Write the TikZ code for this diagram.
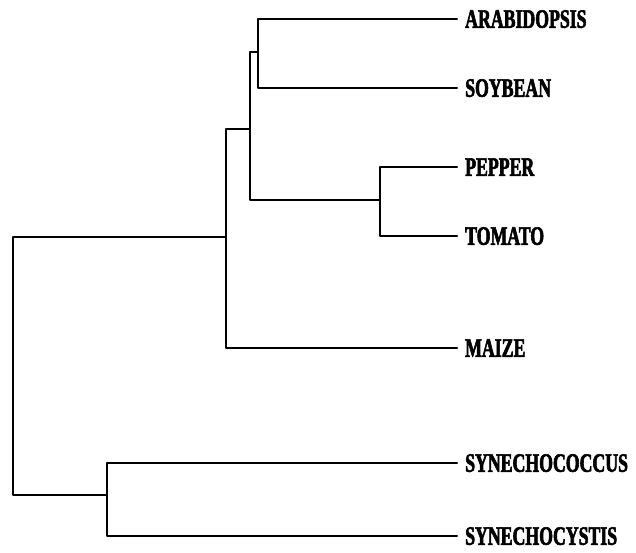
\documentclass[tikz,border=0pt]{standalone}
\usepackage{fontspec}
\newfontfamily\labfont[FakeStretch=0.67,BoldFeatures={FakeBold=2.2}]{Liberation Serif}
\begin{document}
\begin{tikzpicture}[x=1pt,y=-1pt,
  branch/.style={line width=2pt, line cap=round, line join=round},
  taxon/.style={anchor=west, inner xsep=8pt, inner ysep=0pt,
    font=\labfont\bfseries\fontsize{26.5}{27}\selectfont,
    text height=17.5pt, text depth=0pt}]
\useasboundingbox (0,0) rectangle (636,552);
% internal nodes
\coordinate (root) at (13,366);
\coordinate (A) at (226,237);
\coordinate (E) at (107,495);
\coordinate (B) at (250,129);
\coordinate (C) at (258,52);
\coordinate (D) at (380,200);
% leaves
\node[taxon] (arab) at (457,19) {ARABIDOPSIS};
\node[taxon] (soy) at (457,88) {SOYBEAN};
\node[taxon] (pep) at (457,167) {PEPPER};
\node[taxon] (tom) at (457,236) {TOMATO};
\node[taxon] (maize) at (457,348) {MAIZE};
\node[taxon] (syc) at (457,463) {SYNECHOCOCCUS};
\node[taxon] (sys) at (457,536) {SYNECHOCYSTIS};
% branches
\draw[branch] (root) |- (A);
\draw[branch] (root) |- (E);
\draw[branch] (A) |- (B);
\draw[branch] (A) |- (maize);
\draw[branch] (B) |- (C);
\draw[branch] (B) |- (D);
\draw[branch] (C) |- (arab);
\draw[branch] (C) |- (soy);
\draw[branch] (D) |- (pep);
\draw[branch] (D) |- (tom);
\draw[branch] (E) |- (syc);
\draw[branch] (E) |- (sys);
\end{tikzpicture}
\end{document}
